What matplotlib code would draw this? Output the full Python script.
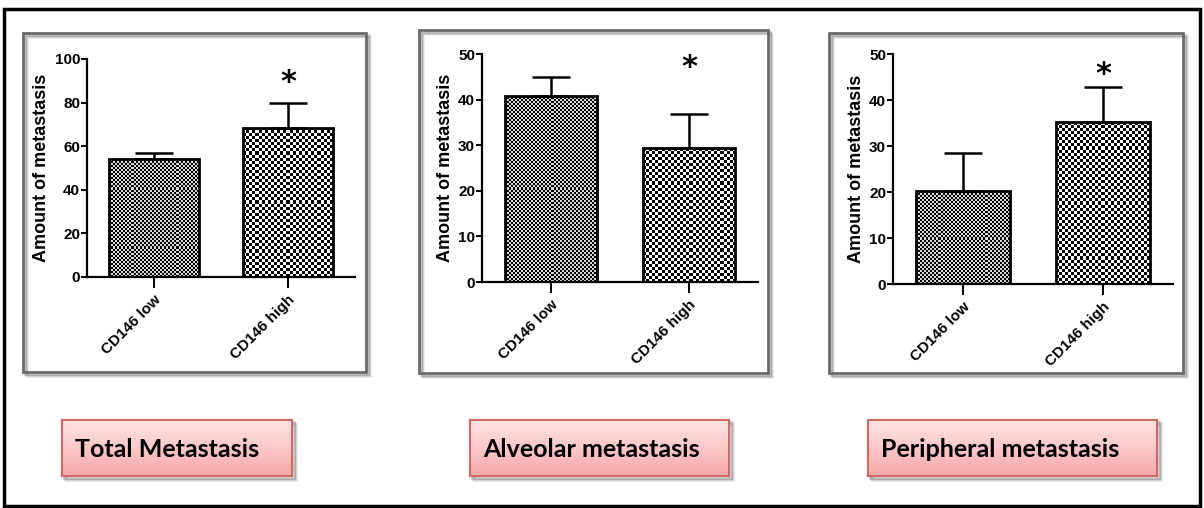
import numpy as np
import matplotlib.pyplot as plt
from matplotlib.patches import Rectangle

# group names and means / SEM for each metastasis type
groups = ["CD146 low", "CD146 high"]
total_mean = [54, 68.5]
total_err = [3, 11.5]
alveolar_mean = [40.8, 29.3]
alveolar_err = [4.2, 7.5]
peripheral_mean = [20.2, 35.2]
peripheral_err = [8.3, 7.7]
star_y = [89, 47, 45.5]
panel_titles = ["Total Metastasis", "Alveolar metastasis", "Peripheral metastasis"]
y_max = [100, 50, 50]
y_step = [20, 10, 10]

W, H = 1204, 508
fig = plt.figure(figsize=(W / 100, H / 100), dpi=100)
fig.patch.set_facecolor("white")


def fx(px):
    return px / W


def fy(py):
    return 1 - py / H


def frame(x0, y0, x1, y1, ec="#6a6a6a", lw=2.0, shadow=True, fc="none", z=0):
    if shadow:
        for k, a in [(4, 0.08), (3, 0.12), (2, 0.18)]:
            fig.add_artist(Rectangle((fx(x0 + k), fy(y1 + k)), fx(x1 - x0), (y1 - y0) / H,
                                     facecolor="none", edgecolor=(0, 0, 0, a), lw=2,
                                     transform=fig.transFigure, zorder=z))
    fig.add_artist(Rectangle((fx(x0), fy(y1)), fx(x1 - x0), (y1 - y0) / H,
                             facecolor=fc, edgecolor=ec, lw=lw,
                             transform=fig.transFigure, zorder=z + 1))


def checker(ax, bar, cell, light=1.0):
    # fill a bar with a checkerboard, cell size in pixels
    fig.canvas.draw()
    bb = bar.get_window_extent()
    nx = max(int(bb.width / cell), 1)
    ny = max(int(bb.height / cell), 1)
    img = (np.indices((ny, nx)).sum(axis=0) % 2).astype(float) * light
    x0 = bar.get_x()
    y0 = bar.get_y()
    im = ax.imshow(img, cmap="gray", interpolation="nearest", aspect="auto",
                   extent=(x0, x0 + bar.get_width(), y0, y0 + bar.get_height()),
                   zorder=2, vmin=0, vmax=1)
    im.set_clip_path(bar)


# outer border
fig.add_artist(Rectangle((fx(4), fy(506)), fx(1196), 497 / H, facecolor="none",
                         edgecolor="black", lw=2.5, transform=fig.transFigure))

boxes = [(23, 33, 366, 372), (419, 30, 768, 373), (829, 33, 1183, 373)]
axes_pos = [(87, 59, 355, 277), (482, 54, 758, 282), (893, 54, 1173, 284)]
label_boxes = [(62, 420, 292, 476), (470, 420, 729, 476), (868, 420, 1157, 476)]
means = [total_mean, alveolar_mean, peripheral_mean]
errs = [total_err, alveolar_err, peripheral_err]

for b in boxes:
    frame(*b)

tick_font = dict(family="Liberation Sans", weight="bold", size=11)

for i in range(3):
    l, t, r, btm = axes_pos[i]
    ax = fig.add_axes([fx(l), fy(btm), fx(r - l), (btm - t) / H])
    ax.set_xlim(-0.5, 1.5)
    ax.set_ylim(0, y_max[i])
    x = np.arange(len(groups))
    bars = ax.bar(x, means[i], width=0.67, facecolor="none", edgecolor="black",
                  lw=2, zorder=3)
    ax.errorbar(x, means[i], yerr=[[0, 0], errs[i]], fmt="none", ecolor="black",
                elinewidth=1.8, capsize=14, capthick=1.8, zorder=4)
    checker(ax, bars[0], 2, light=0.85)
    checker(ax, bars[1], 3)
    ax.text(1, star_y[i], "*", ha="center", va="center", fontsize=22,
            family="DejaVu Sans", weight="bold", color="black")
    for s in ["top", "right"]:
        ax.spines[s].set_visible(False)
    ax.spines["left"].set_linewidth(1.6)
    ax.spines["bottom"].set_linewidth(1.6)
    ax.set_yticks(np.arange(0, y_max[i] + 1, y_step[i]))
    ax.set_yticklabels([str(v) for v in np.arange(0, y_max[i] + 1, y_step[i])], **tick_font)
    ax.set_xticks(x)
    ax.set_xticklabels(groups, rotation=45, ha="right", rotation_mode="anchor",
                       **tick_font)
    ax.tick_params(axis="y", length=4, width=1.4, pad=1)
    ax.tick_params(axis="x", length=8, width=1.4, pad=3)
    ax.set_ylabel("Amount of metastasis", family="Liberation Sans", weight="bold",
                  size=13, labelpad=3)
    ax.patch.set_alpha(0)

    # pink title box with vertical gradient
    bl, bt, br, bb = label_boxes[i]
    frame(bl, bt, br, bb, ec="#d06868", lw=1.5, z=1)
    lax = fig.add_axes([fx(bl), fy(bb), fx(br - bl), (bb - bt) / H], zorder=5)
    grad = np.linspace(0, 1, 64).reshape(-1, 1)
    top_c = np.array([1.0, 0.9, 0.9])
    bot_c = np.array([0.97, 0.66, 0.66])
    lax.imshow(top_c + grad[..., None] * (bot_c - top_c), aspect="auto",
               extent=(0, 1, 0, 1))
    lax.set_xlim(0, 1)
    lax.set_ylim(0, 1)
    lax.set_xticks([])
    lax.set_yticks([])
    for s in lax.spines.values():
        s.set_edgecolor("#d06868")
        s.set_linewidth(1.5)
    lax.text(13 / (br - bl), 0.48, panel_titles[i], ha="left", va="center",
             family="Lato", weight="bold", size=18, color="black")

fig.savefig("out.png", dpi=100, facecolor="white")
